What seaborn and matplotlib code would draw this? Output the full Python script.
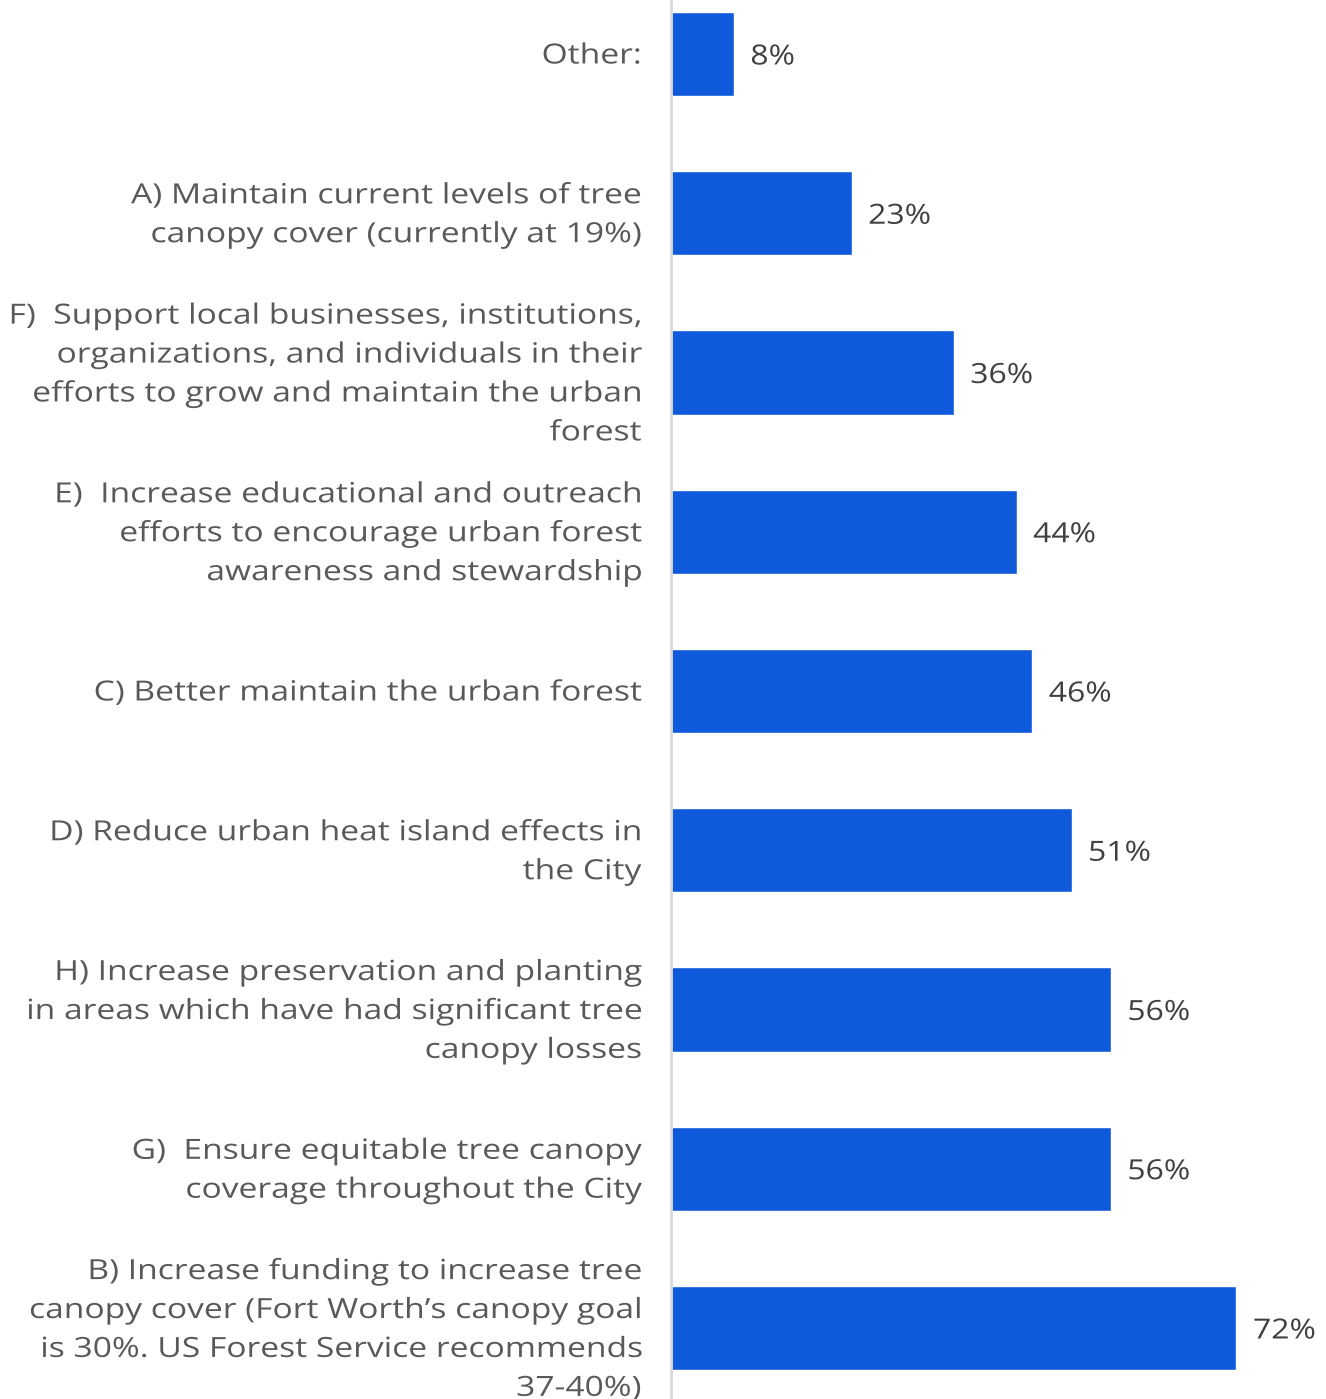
import matplotlib
matplotlib.use("Agg")
import matplotlib.pyplot as plt
import seaborn as sns
import pandas as pd
from matplotlib.patheffects import AbstractPathEffect
from matplotlib.transforms import Affine2D

categories = [
    "Other:",
    "A) Maintain current levels of tree\ncanopy cover (currently at 19%)",
    "F)  Support local businesses, institutions,\norganizations, and individuals in their\nefforts to grow and maintain the urban\nforest",
    "E)  Increase educational and outreach\nefforts to encourage urban forest\nawareness and stewardship",
    "C) Better maintain the urban forest",
    "D) Reduce urban heat island effects in\nthe City",
    "H) Increase preservation and planting\nin areas which have had significant tree\ncanopy losses",
    "G)  Ensure equitable tree canopy\ncoverage throughout the City",
    "B) Increase funding to increase tree\ncanopy cover (Fort Worth\u2019s canopy goal\nis 30%. US Forest Service recommends\n37-40%)",
]
values = [8, 23, 36, 44, 46, 51, 56, 56, 72]

df = pd.DataFrame({"option": categories, "pct": values})


class WideText(AbstractPathEffect):
    """Stretch glyphs horizontally about the line's left or right edge."""

    def __init__(self, factor, anchor="right", offset=(0, 0)):
        super().__init__(offset=offset)
        self.factor = factor
        self.anchor = anchor

    def draw_path(self, renderer, gc, tpath, affine, rgbFace=None):
        shifted = affine + self._offset_transform(renderer)
        if not len(tpath.vertices):
            renderer.draw_path(gc, tpath, shifted, rgbFace)
            return
        pts = shifted.transform(tpath.vertices)
        x0 = pts[:, 0].max() if self.anchor == "right" else pts[:, 0].min()
        stretch = Affine2D().translate(-x0, 0).scale(self.factor, 1).translate(x0, 0)
        renderer.draw_path(gc, tpath, shifted + stretch, rgbFace)


sns.set_theme(style="white")
plt.rcParams["font.family"] = ["Open Sans", "DejaVu Sans"]

fig = plt.figure(figsize=(13.26, 13.99), dpi=100)
ax = fig.add_axes([671 / 1326, 0, 1 - 671 / 1326, 1])

sns.barplot(data=df, x="pct", y="option", orient="h", color="#0F5ADB",
            saturation=1, width=0.53, ax=ax)

ax.set_xlim(0, 83.4)
ax.set_ylim(8.446, -0.339)
ax.set_xlabel("")
ax.set_ylabel("")
ax.set_xticks([])

for side in ("top", "right", "bottom"):
    ax.spines[side].set_visible(False)
ax.spines["left"].set_color("#D9D9D9")
ax.spines["left"].set_linewidth(2)

ax.tick_params(axis="y", length=0, pad=21.5, labelsize=20, labelcolor="#595959")
for lbl in ax.get_yticklabels():
    lbl.set_horizontalalignment("right")
    lbl.set_verticalalignment("center")
    lbl.set_multialignment("right")
    lbl.set_linespacing(1.52)
    lbl.set_path_effects([WideText(1.21, "right", offset=(0, -1.8))])

for i, v in enumerate(values):
    ax.text(v + 2.1, i, f"{v}%", va="center_baseline", ha="left",
            fontsize=20, color="#404040",
            path_effects=[WideText(1.15, "left")])

fig.savefig("out.png", dpi=100)
